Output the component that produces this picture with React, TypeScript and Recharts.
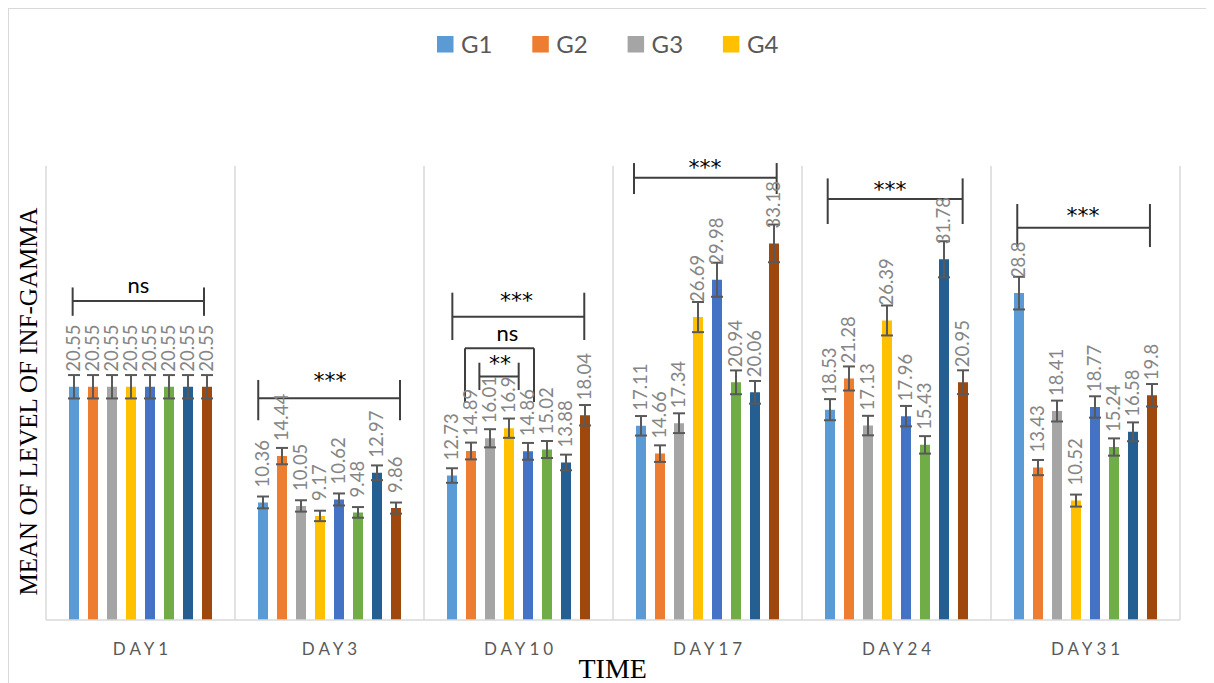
import React from 'react';
import { BarChart, Bar, XAxis, YAxis, ReferenceLine, ReferenceDot, ErrorBar, LabelList } from 'recharts';

const CATEGORIES = ['DAY1', 'DAY3', 'DAY10', 'DAY17', 'DAY24', 'DAY31'];
const SERIES = ['G1', 'G2', 'G3', 'G4', 'G5', 'G6', 'G7', 'G8'];
const LEGEND_SERIES = ['G1', 'G2', 'G3', 'G4'];
const COLORS = ['#5B9BD5', '#ED7D31', '#A5A5A5', '#FFC000', '#4472C4', '#70AD47', '#255E91', '#9E480E'];

const G1 = [20.55, 10.36, 12.73, 17.11, 18.53, 28.8];
const G2 = [20.55, 14.44, 14.89, 14.66, 21.28, 13.43];
const G3 = [20.55, 10.05, 16.01, 17.34, 17.13, 18.41];
const G4 = [20.55, 9.17, 16.9, 26.69, 26.39, 10.52];
const G5 = [20.55, 10.62, 14.86, 29.98, 17.96, 18.77];
const G6 = [20.55, 9.48, 15.02, 20.94, 15.43, 15.24];
const G7 = [20.55, 12.97, 13.88, 20.06, 31.78, 16.58];
const G8 = [20.55, 9.86, 18.04, 33.18, 20.95, 19.8];
const VALUES = [G1, G2, G3, G4, G5, G6, G7, G8];

const E1 = [1.03, 0.52, 0.64, 0.86, 0.93, 1.44];
const E2 = [1.03, 0.72, 0.74, 0.73, 1.06, 0.67];
const E3 = [1.03, 0.5, 0.8, 0.87, 0.86, 0.92];
const E4 = [1.03, 0.46, 0.85, 1.33, 1.32, 0.53];
const E5 = [1.03, 0.53, 0.74, 1.5, 0.9, 0.94];
const E6 = [1.03, 0.47, 0.75, 1.05, 0.77, 0.76];
const E7 = [1.03, 0.65, 0.69, 1.0, 1.59, 0.83];
const E8 = [1.03, 0.49, 0.9, 1.66, 1.05, 0.99];
const ERRORS = [E1, E2, E3, E4, E5, E6, E7, E8];

// category centre positions on a 0..6 scale (used by the hidden numeric axis)
const POSITIONS = [0.5, 1.5, 2.5, 3.5, 4.5, 5.5];

// significance brackets (x on the 0..6 category-position scale, y in data units)
const BR_X1 = [0.141, 1.123, 2.15, 2.217, 2.293, 3.111, 4.136, 5.139];
const BR_X2 = [0.836, 1.873, 2.848, 2.582, 2.501, 3.866, 4.85, 5.841];
const BR_Y = [28.1, 19.53, 26.72, 23.94, 21.45, 38.97, 37.09, 34.57];
const BR_LO = [26.8, 17.6, 24.67, 19.2, 20.26, 37.53, 34.89, 32.86];
const BR_HI = [29.3, 21.15, 28.84, 23.94, 22.67, 40.26, 38.91, 36.65];
const BR_TEXT = ['ns', '***', '***', 'ns', '**', '***', '***', '***'];
const BR_TX = [0.489, 1.503, 2.49, 2.441, 2.402, 3.487, 4.466, 5.487];
const BR_TY = [28.78, 20.4, 27.5, 24.61, 21.95, 39.2, 37.3, 35.0];

const rows = CATEGORIES.map((day, i) => {
  const row: Record<string, any> = { day, pos: POSITIONS[i] };
  SERIES.forEach((s, k) => {
    row[s] = VALUES[k][i];
    row['e' + s] = ERRORS[k][i];
  });
  return row;
});

const GRID_X = Array.from({ length: CATEGORIES.length + 1 }, (_, i) => i);

const FONT = 'Lato, "Open Sans", sans-serif';

const renderValueLabel = (props: any) => {
  const { x, y, width, value } = props;
  const cx = Number(x) + Number(width) / 2 + 6.5;
  const ty = Number(y) - 15;
  return (
    <text
      x={cx}
      y={ty}
      transform={`rotate(-90 ${cx} ${ty})`}
      textAnchor="start"
      fontFamily={FONT}
      fontSize={18.5}
      fill="#858585"
    >
      {value}
    </text>
  );
};

const DayTick = (props: any) => {
  const { x, y, payload } = props;
  return (
    <text
      x={Number(x) + 2}
      y={Number(y)}
      dy={27}
      textAnchor="middle"
      fontFamily={FONT}
      fontSize={17}
      letterSpacing={4}
      fill="#595959"
    >
      {payload.value}
    </text>
  );
};

const BRACKET_STROKE = '#3f3f3f';

export default function App() {
  const bracketEls: React.ReactNode[] = [];
  BR_X1.forEach((x1, i) => {
    const x2 = BR_X2[i];
    const y = BR_Y[i];
    const isStar = BR_TEXT[i].startsWith('*');
    bracketEls.push(
      <ReferenceLine key={`bh${i}`} xAxisId="n" ifOverflow="visible" stroke={BRACKET_STROKE} strokeWidth={2}
        segment={[{ x: x1, y }, { x: x2, y }]} />
    );
    bracketEls.push(
      <ReferenceLine key={`bl${i}`} xAxisId="n" ifOverflow="visible" stroke={BRACKET_STROKE} strokeWidth={2}
        segment={[{ x: x1, y: BR_LO[i] }, { x: x1, y: BR_HI[i] }]} />
    );
    bracketEls.push(
      <ReferenceLine key={`br${i}`} xAxisId="n" ifOverflow="visible" stroke={BRACKET_STROKE} strokeWidth={2}
        segment={[{ x: x2, y: BR_LO[i] }, { x: x2, y: BR_HI[i] }]} />
    );
    bracketEls.push(
      <ReferenceDot key={`bt${i}`} xAxisId="n" x={BR_TX[i]} y={BR_TY[i]} r={1} ifOverflow="visible"
        shape={(p: any) => (
          <text x={p.cx} y={p.cy} textAnchor="middle"
            fontFamily={isStar ? '"DejaVu Sans", sans-serif' : FONT}
            fontSize={22} fill="#000">
            {BR_TEXT[i]}
          </text>
        )} />
    );
  });

  return (
    <div style={{ position: 'relative', width: 1205, height: 674, borderTop: '1px solid #d9d9d9', borderLeft: '1px solid #d9d9d9', background: '#fff' }}>
      <style>{'html,body{overflow:hidden}'}</style>
      <BarChart width={1205} height={674} data={rows} margin={{ top: 157, left: 37, right: 34, bottom: 33 }} barSize={10} barGap={9}>
        <XAxis xAxisId="c" dataKey="day" height={30} axisLine={{ stroke: '#d9d9d9', strokeWidth: 1.5 }} tickLine={false} tick={DayTick} interval={0} />
        <XAxis xAxisId="n" dataKey="pos" type="number" domain={[0, 6]} hide allowDataOverflow />
        <YAxis hide domain={[0, 40]} allowDataOverflow />
        {GRID_X.map((v) => (
          <ReferenceLine key={`g${v}`} xAxisId="n" x={v} stroke="#d9d9d9" strokeWidth={1.5} ifOverflow="visible" />
        ))}
        {SERIES.map((s, k) => (
          <Bar key={s} xAxisId="c" dataKey={s} fill={COLORS[k]} isAnimationActive={false}>
            <ErrorBar dataKey={'e' + s} width={6} stroke="#595959" strokeWidth={2} direction="y" />
            <LabelList dataKey={s} content={renderValueLabel} />
          </Bar>
        ))}
        {bracketEls}
      </BarChart>
      <svg width={1205} height={674} style={{ position: 'absolute', left: 0, top: 0, pointerEvents: 'none' }}>
        {LEGEND_SERIES.map((s, k) => (
          <g key={s}>
            <rect x={428 + k * 95.3} y={27} width={16.5} height={16.5} fill={COLORS[k]} />
            <text x={452 + k * 95.3} y={43.6} fontFamily={FONT} fontSize={24} fill="#595959">{s}</text>
          </g>
        ))}
        <text x={28.3} y={392.5} transform="rotate(-90 28.3 392.5)" textAnchor="middle"
          fontFamily='"Liberation Serif", "Times New Roman", serif' fontSize={25} fill="#000">
          MEAN OF LEVEL OF INF-GAMMA
        </text>
        <text x={603.7} y={669} textAnchor="middle"
          fontFamily='"Liberation Serif", "Times New Roman", serif' fontSize={28} fill="#000">
          TIME
        </text>
      </svg>
    </div>
  );
}
